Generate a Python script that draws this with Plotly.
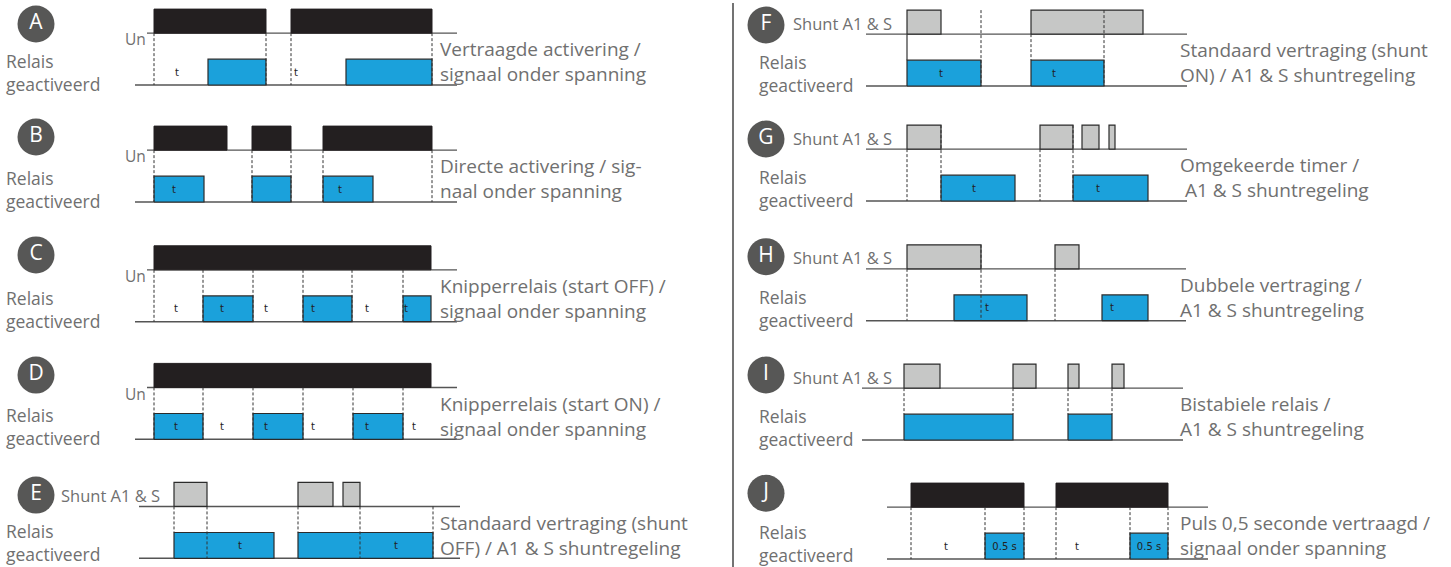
import plotly.graph_objects as go

# ---------------- DATA: switching times (time units, t=0 at first edge of each column) -------------
A_INPUT = [(0, 112), (137, 278)]
A_RELAY = [(54, 112), (192, 278)]
A_MARKS = [(0, "mid"), (112, "mid"), (137, "mid"), (278, "mid")]
A_T = [23, 142]

B_INPUT = [(0, 73), (98, 137), (169, 278)]
B_RELAY = [(0, 50), (98, 137), (169, 219)]
B_MARKS = [(0, "mid"), (98, "mid"), (137, "mid"), (169, "mid"), (278, "mid")]
B_T = [20, 186]

C_INPUT = [(0, 277)]
C_RELAY = [(49, 99), (149, 198), (249, 277)]
C_MARKS = [(0, "mid"), (49, "mid"), (99, "mid"), (149, "mid"), (198, "mid"), (249, "mid")]
C_T = [22, 68, 112, 159, 213, 252]

D_INPUT = [(0, 277)]
D_RELAY = [(0, 49), (99, 149), (199, 249)]
D_MARKS = [(0, "mid"), (49, "mid"), (99, "mid"), (149, "mid"), (199, "mid"), (249, "mid")]
D_T = [22, 68, 112, 159, 213, 260]

E_SHUNT = [(20, 53), (144, 179), (189, 206)]
E_RELAY = [(20, 120), (144, 279)]
E_MARKS = [(20, "gap"), (53, "mid"), (144, "gap"), (206, "mid"), (279, "mid")]
E_T = [86, 242]

F_SHUNT = [(0, 34), (124, 236)]
F_RELAY = [(0, 74), (124, 197)]
F_MARKS = [(0, "gapsolid"), (74, "full"), (124, "gap"), (197, "full")]
F_T = [34, 147]

G_SHUNT = [(0, 34), (133, 166), (175, 192), (202, 208)]
G_RELAY = [(34, 108), (166, 241)]
G_MARKS = [(0, "mid"), (34, "full"), (133, "mid"), (166, "full")]
G_T = [67, 191]

H_SHUNT = [(0, 74), (148, 172)]
H_RELAY = [(47, 120), (195, 241)]
H_MARKS = [(0, "mid"), (74, "full"), (148, "mid")]
H_T = [80, 205]

I_SHUNT = [(-3, 33), (106, 129), (161, 172), (205, 217)]
I_RELAY = [(-3, 106), (161, 205)]
I_MARKS = [(-3, "gap"), (106, "gap"), (161, "gap"), (205, "gap")]
I_T = []

J_INPUT = [(4, 117), (149, 261)]
J_RELAY = [(78, 117), (223, 261)]
J_MARKS = [(4, "mid"), (78, "mid"), (117, "mid"), (149, "mid"), (223, "mid"), (261, "mid")]
J_T = [39, 170]
J_PULSE_LABEL = "0.5 s"

LETTERS = ["A", "B", "C", "D", "E", "F", "G", "H", "I", "J"]
DESCRIPTIONS = [
    ("Vertraagde activering /", "signaal onder spanning"),
    ("Directe activering / sig-", "naal onder spanning"),
    ("Knipperrelais (start OFF) /", "signaal onder spanning"),
    ("Knipperrelais (start ON) /", "signaal onder spanning"),
    ("Standaard vertraging (shunt", "OFF) / A1 & S shuntregeling"),
    ("Standaard vertraging (shunt", "ON) / A1 & S shuntregeling"),
    ("Omgekeerde timer /", "\u00a0A1 & S shuntregeling"),
    ("Dubbele vertraging /", "A1 & S shuntregeling"),
    ("Bistabiele relais /", "A1 & S shuntregeling"),
    ("Puls 0,5 seconde vertraagd /", "signaal onder spanning"),
]
RELAY_LABEL = ("Relais", "geactiveerd")
SUPPLY_LABEL = "Un"
SHUNT_LABEL = "Shunt A1 & S"

# ---------------- LAYOUT / STYLE -------------
W, H = 1451, 567
UNIT = 25.3
ORIGIN = {"L": 154, "R": 907}
XAX = {"L": "x", "R": "x2"}
REL_LO, REL_HI, IN_LO, IN_HI = 0.0, 1.02, 2.05, 3.0

BLUE = "#1ba1db"
BLACK = "#231f20"
GREY = "#c6c7c6"
EDGE = "#2b2b2b"
LINE = "#555555"
TXT = "#707070"
CIRCLE = "#575756"
FONT = "Open Sans"

PANELS = [
    dict(col="L", base=85, kind="supply", inp=A_INPUT, rel=A_RELAY, marks=A_MARKS, t=A_T,
         in_line=(-7, 303), rel_line=(-19, 303), cy=2.41, lab_dy=0),
    dict(col="L", base=202, kind="supply", inp=B_INPUT, rel=B_RELAY, marks=B_MARKS, t=B_T,
         in_line=(-7, 303), rel_line=(-19, 303), cy=2.57, lab_dy=0),
    dict(col="L", base=321.7, kind="supply", inp=C_INPUT, rel=C_RELAY, marks=C_MARKS, t=C_T,
         in_line=(-7, 303), rel_line=(-19, 303), cy=2.64, lab_dy=0),
    dict(col="L", base=439.3, kind="supply", inp=D_INPUT, rel=D_RELAY, marks=D_MARKS, t=D_T,
         in_line=(-7, 303), rel_line=(-19, 303), cy=2.54, lab_dy=0),
    dict(col="L", base=558.3, kind="shunt", inp=E_SHUNT, rel=E_RELAY, marks=E_MARKS, t=E_T,
         in_line=(-15, 306), rel_line=(-15, 306), cy=2.50, lab_dy=0.12),
    dict(col="R", base=86, kind="shunt", inp=F_SHUNT, rel=F_RELAY, marks=F_MARKS, t=F_T,
         in_line=(-41, 280), rel_line=(-41, 280), cy=2.41, lab_dy=0),
    dict(col="R", base=201, kind="shunt", inp=G_SHUNT, rel=G_RELAY, marks=G_MARKS, t=G_T,
         in_line=(-41, 280), rel_line=(-41, 280), cy=2.45, lab_dy=0),
    dict(col="R", base=320.7, kind="shunt", inp=H_SHUNT, rel=H_RELAY, marks=H_MARKS, t=H_T,
         in_line=(-41, 279), rel_line=(-41, 279), cy=2.53, lab_dy=0),
    dict(col="R", base=440, kind="shunt", inp=I_SHUNT, rel=I_RELAY, marks=I_MARKS, t=I_T,
         in_line=(-45, 276), rel_line=(-45, 276), cy=2.57, lab_dy=0),
    dict(col="R", base=559, kind="supply_nolabel", inp=J_INPUT, rel=J_RELAY, marks=J_MARKS, t=J_T,
         in_line=(-20, 301), rel_line=(-20, 301), cy=2.60, pulse_label=J_PULSE_LABEL, lab_dy=0.12),
]

CIRCLE_X = {"L": -118, "R": -141}
RELAY_LABEL_X = {"L": -149, "R": -149}
SHUNT_LABEL_X = {"L": -94, "R": -115}
DESC_X = {"L": 285, "R": 272}


def rects(intervals, lo, hi):
    xs, ys = [], []
    for s, e in intervals:
        xs += [s, s, e, e, s, None]
        ys += [lo, hi, hi, lo, lo, None]
    return xs, ys


fig = go.Figure()
annotations = []
layout_axes = {}

for i, p in enumerate(PANELS):
    yname = "y" if i == 0 else f"y{i + 1}"
    ykey = "yaxis" if i == 0 else f"yaxis{i + 1}"
    xname = XAX[p["col"]]
    ax = dict(range=[(p["base"] - H) / UNIT, p["base"] / UNIT], domain=[0, 1],
              visible=False, fixedrange=True)
    if i > 0:
        ax["overlaying"] = "y"
    layout_axes[ykey] = ax
    common = dict(xaxis=xname, yaxis=yname, showlegend=False, hoverinfo="skip")

    # base lines
    fig.add_trace(go.Scatter(x=[p["in_line"][0], p["in_line"][1], None, p["rel_line"][0], p["rel_line"][1]],
                             y=[IN_LO, IN_LO, None, REL_LO, REL_LO], mode="lines",
                             line=dict(color=LINE, width=1.4), **common))
    # input pulses
    xs, ys = rects(p["inp"], IN_LO, IN_HI)
    if p["kind"] == "shunt":
        fig.add_trace(go.Scatter(x=xs, y=ys, mode="lines", fill="toself", fillcolor=GREY,
                                 line=dict(color=EDGE, width=1.2), **common))
    else:
        fig.add_trace(go.Scatter(x=xs, y=ys, mode="lines", fill="toself", fillcolor=BLACK,
                                 line=dict(color=BLACK, width=1), **common))
    # relay pulses
    xs, ys = rects(p["rel"], REL_LO, REL_HI)
    fig.add_trace(go.Scatter(x=xs, y=ys, mode="lines", fill="toself", fillcolor=BLUE,
                             line=dict(color=EDGE, width=1.2), **common))
    # dashed markers
    dx, dy, sx, sy = [], [], [], []
    for x, kind in p["marks"]:
        if kind == "mid":
            dx += [x, x, None]; dy += [IN_LO, REL_LO, None]
        elif kind == "full":
            dx += [x, x, None]; dy += [IN_HI, REL_LO, None]
        elif kind == "gap":
            dx += [x, x, None]; dy += [IN_LO, REL_HI, None]
        elif kind == "gapsolid":
            sx += [x, x, None]; sy += [IN_LO, REL_HI, None]
    fig.add_trace(go.Scatter(x=dx, y=dy, mode="lines",
                             line=dict(color="#333333", width=1, dash="3px,2px"), **common))
    if sx:
        fig.add_trace(go.Scatter(x=sx, y=sy, mode="lines",
                                 line=dict(color="#333333", width=1.2), **common))
    # t labels
    if p["t"]:
        fig.add_trace(go.Scatter(x=p["t"], y=[0.47] * len(p["t"]), mode="text", text=["t"] * len(p["t"]),
                                 textfont=dict(family="DejaVu Sans", size=10, color="#222222"),
                                 textposition="middle center", **common))
    if p.get("pulse_label"):
        cx = [(s + e) / 2 for s, e in p["rel"]]
        fig.add_trace(go.Scatter(x=cx, y=[0.47] * len(cx), mode="text", text=[p["pulse_label"]] * len(cx),
                                 textfont=dict(family="DejaVu Sans", size=10, color="#222222"),
                                 textposition="middle center", **common))
    # circle with letter
    fig.add_trace(go.Scatter(x=[CIRCLE_X[p["col"]]], y=[p["cy"]], mode="markers+text",
                             marker=dict(size=37, color=CIRCLE, line=dict(width=0)),
                             text=[LETTERS[i]], textposition="middle center",
                             textfont=dict(family=FONT, size=21, color="white"), **common))

    # texts
    def ann(text, x, y, size, color=TXT, xanchor="left"):
        annotations.append(dict(text=text, x=x, y=y, xref=xname, yref=yname, showarrow=False,
                                xanchor=xanchor, yanchor="middle", align="left", borderpad=0,
                                font=dict(family=FONT, size=size, color=color)))

    ann(RELAY_LABEL[0] + "<br>" + RELAY_LABEL[1], RELAY_LABEL_X[p["col"]], 0.495 + p["lab_dy"], 17.5)
    if p["kind"] == "supply":
        ann(SUPPLY_LABEL, -19, 1.8, 15.5, xanchor="center")
    elif p["kind"] == "shunt":
        ann(SHUNT_LABEL, SHUNT_LABEL_X[p["col"]], 2.48, 16.5)
    d1, d2 = DESCRIPTIONS[i]
    ann(d1 + "<br>" + d2, DESC_X[p["col"]], 0.915, 19)

# column divider
fig.add_shape(type="line", xref="paper", yref="paper", x0=733 / W, x1=733 / W, y0=0, y1=1 - 3 / H,
              line=dict(color="#444444", width=1.5))

fig.update_layout(
    width=W, height=H, margin=dict(l=0, r=0, t=0, b=0),
    paper_bgcolor="white", plot_bgcolor="white",
    xaxis=dict(range=[-ORIGIN["L"], W - ORIGIN["L"]], domain=[0, 1], visible=False, fixedrange=True),
    xaxis2=dict(range=[-ORIGIN["R"], W - ORIGIN["R"]], domain=[0, 1], overlaying="x",
                visible=False, fixedrange=True),
    annotations=annotations,
    **layout_axes,
)

fig.write_html("out.html", config={"displayModeBar": False},
               post_script="document.body.style.margin='0';document.body.style.overflow='hidden';")
